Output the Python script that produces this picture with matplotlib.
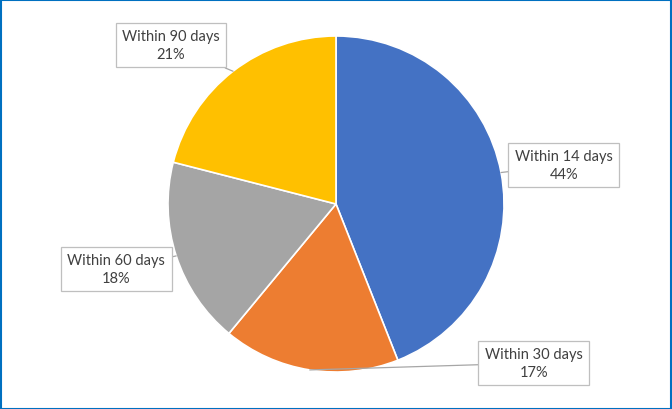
import numpy as np
import matplotlib.pyplot as plt
from matplotlib.patches import Rectangle

labels = ['Within 14 days', 'Within 30 days', 'Within 60 days', 'Within 90 days']
shares = [44, 17, 18, 21]
colours = ['#4472C4', '#ED7D31', '#A5A5A5', '#FFC000']

# label box centres in pixel space (y up)
box_pos = [(564, 244), (534, 46), (116, 140), (171, 364)]

W, H = 672, 410
fig = plt.figure(figsize=(W / 100, H / 100), dpi=100)
ax = fig.add_axes([0, 0, 1, 1])
ax.set_xlim(0, W)
ax.set_ylim(0, H)
ax.axis('off')

cx, cy, r = 336, 205, 168
wedges, _ = ax.pie(shares, colors=colours, startangle=90, counterclock=False,
                   center=(cx, cy), radius=r, frame=True,
                   wedgeprops=dict(edgecolor='white', linewidth=1.2))
ax.set_xlim(0, W)
ax.set_ylim(0, H)
ax.axis('off')

for w, lab, val, (bx, by) in zip(wedges, labels, shares, box_pos):
    mid = np.deg2rad((w.theta1 + w.theta2) / 2)
    px, py = cx + r * np.cos(mid), cy + r * np.sin(mid)
    ax.annotate(f'{lab}\n{val}%', xy=(px, py), xytext=(bx, by),
                ha='center', va='center', fontsize=10.5, family='Lato',
                color='#404040', linespacing=1.35,
                bbox=dict(boxstyle='square,pad=0.45', fc='white', ec='#BFBFBF', lw=0.9),
                arrowprops=dict(arrowstyle='-', color='#A6A6A6', lw=0.9,
                                shrinkA=0, shrinkB=0))

fig.patches.append(Rectangle((0.5 / W, 0.5 / H), 1 - 1.5 / W, 1 - 1.5 / H,
                             transform=fig.transFigure, fill=False,
                             ec='#0070C0', lw=1.5))

fig.savefig('out.png', dpi=100, facecolor='white')
